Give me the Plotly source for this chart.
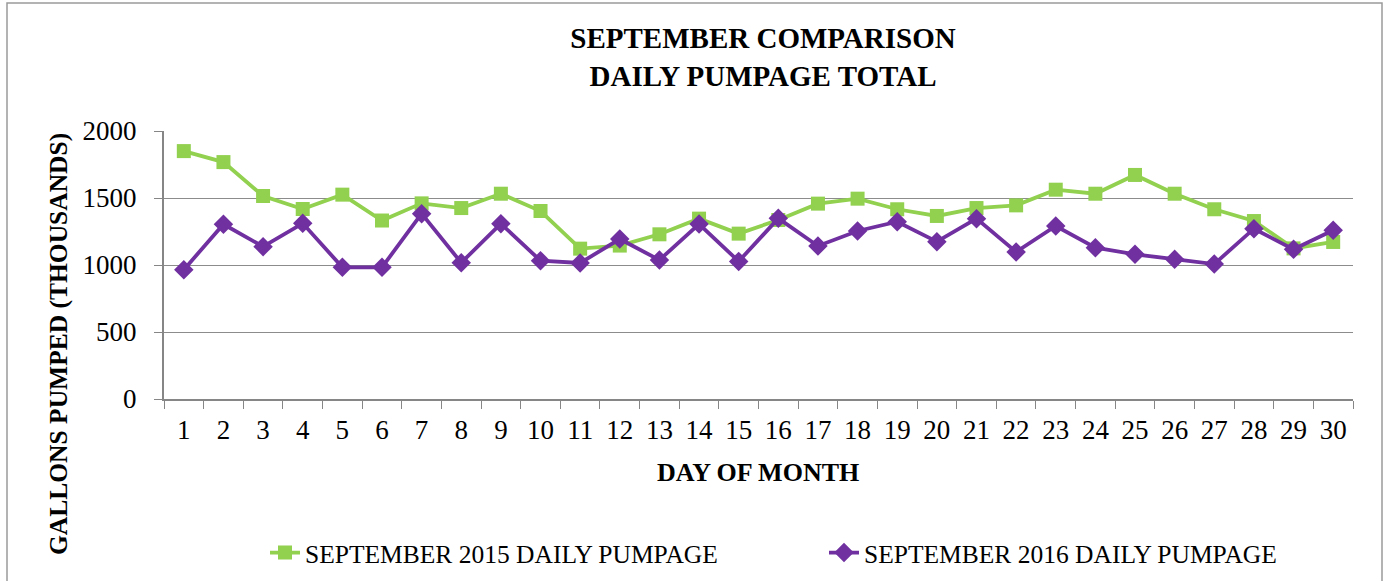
import plotly.graph_objects as go

days = [str(d) for d in range(1, 31)]
sep_2015 = [1850, 1768, 1515, 1418, 1525, 1332, 1460, 1425, 1532, 1403,
            1122, 1145, 1229, 1346, 1234, 1336, 1458, 1495, 1416, 1366,
            1425, 1445, 1562, 1532, 1672, 1532, 1416, 1328, 1124, 1172]
sep_2016 = [965, 1304, 1137, 1311, 983, 983, 1383, 1017, 1308, 1032,
            1015, 1194, 1037, 1306, 1027, 1348, 1142, 1254, 1323, 1174,
            1346, 1097, 1291, 1129, 1080, 1042, 1007, 1271, 1117, 1259]
y_ticks = [0, 500, 1000, 1500, 2000]

GREEN = "#92D050"
PURPLE = "#7030A0"
FONT = "Liberation Serif"

fig = go.Figure()
fig.add_trace(go.Scatter(
    x=days, y=sep_2015, mode="lines+markers",
    name="SEPTEMBER 2015 DAILY PUMPAGE",
    line=dict(color=GREEN, width=3.8),
    marker=dict(symbol="square", size=14, color=GREEN),
    legend="legend",
))
fig.add_trace(go.Scatter(
    x=days, y=sep_2016, mode="lines+markers",
    name="SEPTEMBER 2016 DAILY PUMPAGE",
    line=dict(color=PURPLE, width=3.8),
    marker=dict(symbol="diamond", size=15, color=PURPLE),
    legend="legend2",
))

W, H = 1385, 581
# target plot-area edges in screen pixels
SX0, SX1, SY0, SY1 = 164, 1353, 131, 399
L = SX0
R = W - SX1
T = SY0
B = H - SY1
pw, ph = W - L - R, H - T - B

def px(xs):
    return (xs - L) / pw

def py(ys):
    return (H - B - ys) / ph

legend_font = dict(family=FONT, size=25.5, color="#000000")

fig.update_layout(
    width=W, height=H,
    margin=dict(l=L, r=R, t=T, b=B, autoexpand=False),
    paper_bgcolor="white", plot_bgcolor="white",
    font=dict(family=FONT, color="#000000"),
    title=dict(
        text="<b>SEPTEMBER COMPARISON<br>DAILY PUMPAGE TOTAL</b>",
        x=px(763), xref="paper", xanchor="center",
        y=1 - 48 / H, yref="container", yanchor="top",
        font=dict(family=FONT, size=29, color="#000000"),
    ),
    xaxis=dict(
        type="category", range=[-0.5, 29.5], tickson="boundaries",
        ticks="outside", ticklen=8,
        tickcolor="#868686", showline=True, linecolor="#868686", linewidth=2,
        showgrid=False, tickfont=dict(family=FONT, size=27, color="#000000"),
        ticklabelstandoff=6,
    ),
    yaxis=dict(
        range=[0, 2000], tickvals=y_ticks, ticks="outside", ticklen=8,
        tickcolor="#868686", showline=True, linecolor="#868686", linewidth=2,
        showgrid=True, gridcolor="#8c8c8c", gridwidth=1, zeroline=False,
        tickfont=dict(family=FONT, size=27, color="#000000"),
        ticklabelstandoff=12,
    ),
    legend=dict(
        orientation="h", x=px(265), xanchor="left", y=py(553), yanchor="middle",
        font=legend_font, bgcolor="rgba(0,0,0,0)",
    ),
    legend2=dict(
        orientation="h", x=px(824), xanchor="left", y=py(553), yanchor="middle",
        font=legend_font, bgcolor="rgba(0,0,0,0)",
    ),
    annotations=[
        dict(text="<b>DAY OF MONTH</b>", xref="paper", yref="paper",
             x=px(758), y=py(472), xanchor="center", yanchor="middle",
             showarrow=False, font=dict(family=FONT, size=26, color="#000000")),
        dict(text="<b>GALLONS PUMPED (THOUSANDS)</b>", xref="paper", yref="paper",
             x=px(58), y=py(344), xanchor="center", yanchor="middle",
             textangle=-90, showarrow=False,
             font=dict(family=FONT, size=25.5, color="#000000")),
    ],
    shapes=[
        dict(type="rect", xref="paper", yref="paper",
             x0=px(7), x1=px(1382), y0=py(3), y1=py(600),
             line=dict(color="#9a9a9a", width=1.5), fillcolor="rgba(0,0,0,0)",
             layer="below"),
    ],
    showlegend=True,
)

fig.write_html("out.html", config={"displayModeBar": False},
               post_script="document.body.style.margin='0px';")
